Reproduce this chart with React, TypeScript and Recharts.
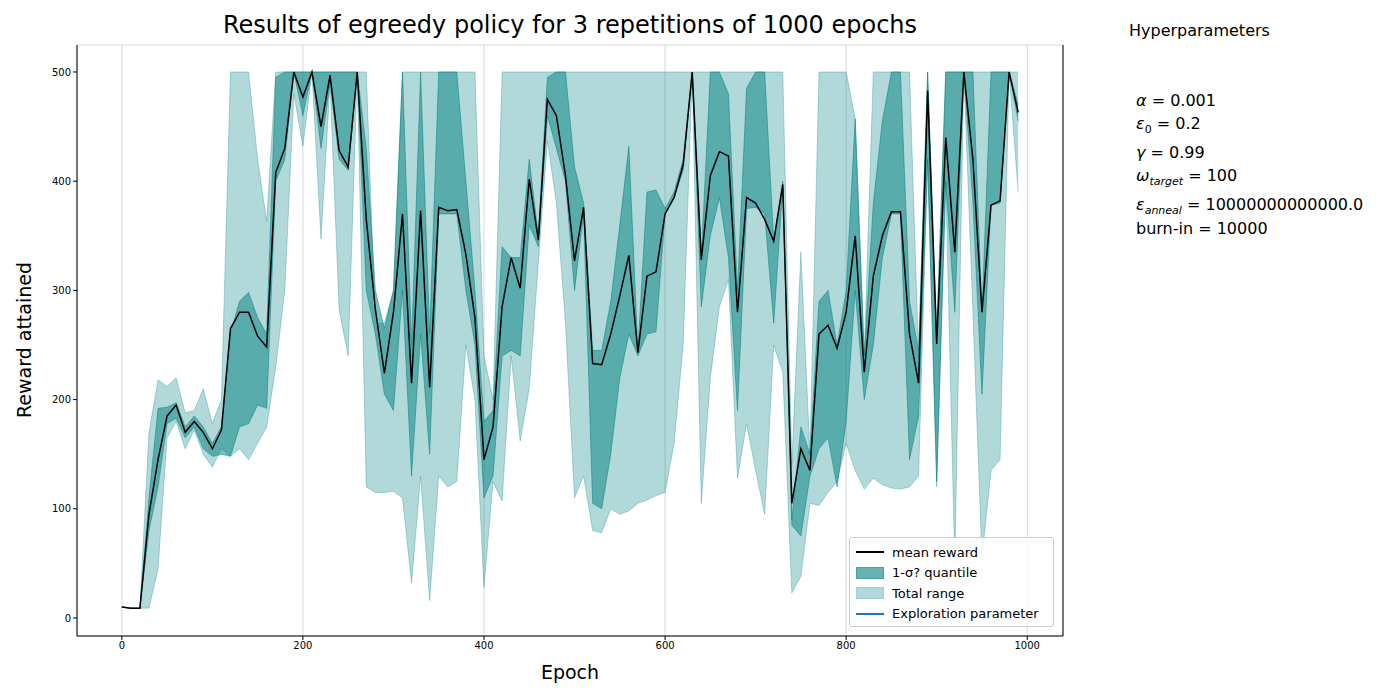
import { Area, CartesianGrid, ComposedChart, Line, XAxis, YAxis } from "recharts";

const epochs = Array.from({ length: 100 }, (_, i) => i * 10);
const meanReward = [10, 9, 9, 95, 145, 185, 195, 170, 180, 170, 155, 172, 265, 280, 280, 258, 248, 408, 430, 500, 477, 500, 450, 497, 428, 413, 500, 365, 283, 224, 280, 370, 215, 373, 211, 376, 373, 374, 333, 275, 145, 175, 285, 330, 302, 402, 346, 475, 460, 405, 327, 376, 233, 232, 260, 295, 332, 243, 313, 317, 370, 385, 415, 500, 328, 405, 427, 423, 280, 385, 380, 365, 345, 397, 105, 155, 135, 260, 268, 247, 280, 350, 225, 313, 350, 372, 372, 260, 215, 483, 251, 440, 335, 500, 420, 280, 378, 382, 500, 463];
const quantileHi = [10, 9, 9, 110, 192, 193, 197, 175, 185, 175, 160, 175, 260, 290, 298, 275, 260, 495, 500, 500, 500, 500, 500, 500, 500, 500, 500, 430, 300, 265, 300, 500, 250, 500, 260, 500, 500, 500, 400, 300, 180, 190, 340, 330, 330, 420, 350, 495, 500, 500, 413, 380, 245, 245, 290, 360, 432, 245, 390, 392, 375, 390, 420, 500, 330, 500, 500, 480, 300, 485, 500, 500, 345, 400, 90, 175, 150, 290, 300, 250, 300, 457, 240, 380, 455, 500, 500, 290, 245, 500, 260, 500, 500, 500, 500, 280, 500, 500, 500, 470];
const quantileLo = [10, 9, 9, 80, 120, 178, 183, 165, 175, 155, 148, 150, 148, 175, 178, 195, 192, 400, 420, 500, 460, 500, 430, 490, 420, 410, 500, 300, 260, 205, 190, 300, 130, 260, 150, 370, 370, 370, 300, 250, 110, 130, 240, 245, 240, 360, 340, 460, 430, 400, 300, 370, 105, 100, 150, 220, 260, 240, 260, 262, 370, 385, 410, 500, 285, 350, 385, 330, 190, 375, 376, 370, 270, 395, 85, 75, 130, 155, 165, 120, 180, 300, 200, 250, 330, 370, 370, 145, 185, 420, 125, 400, 280, 500, 380, 205, 378, 380, 500, 455];
const rangeHi = [10, 9, 9, 170, 218, 212, 220, 188, 190, 210, 178, 200, 500, 500, 500, 420, 363, 500, 500, 500, 500, 500, 500, 500, 500, 500, 500, 500, 270, 270, 300, 500, 500, 500, 500, 500, 500, 500, 500, 500, 240, 200, 500, 500, 500, 500, 500, 500, 500, 500, 500, 500, 500, 500, 500, 500, 500, 500, 500, 500, 500, 500, 500, 500, 500, 500, 500, 500, 500, 500, 500, 500, 500, 500, 140, 335, 150, 500, 500, 500, 500, 457, 240, 500, 500, 500, 500, 500, 240, 500, 260, 500, 500, 500, 500, 500, 500, 500, 500, 500];
const rangeLo = [10, 9, 9, 9, 45, 165, 180, 155, 172, 150, 138, 155, 148, 155, 145, 160, 175, 230, 300, 480, 432, 500, 347, 490, 282, 240, 500, 120, 115, 115, 116, 110, 32, 130, 16, 130, 120, 125, 250, 200, 28, 125, 107, 240, 162, 210, 325, 437, 380, 270, 110, 130, 80, 78, 100, 95, 98, 105, 108, 112, 115, 160, 250, 500, 105, 220, 285, 310, 128, 178, 135, 95, 250, 225, 23, 38, 105, 103, 115, 125, 160, 135, 118, 128, 122, 119, 118, 120, 130, 420, 120, 400, 50, 500, 280, 55, 135, 145, 500, 390];

const data = epochs.map((epoch, i) => ({
  epoch,
  mean: meanReward[i],
  q: [quantileLo[i], quantileHi[i]],
  r: [rangeLo[i], rangeHi[i]],
}));

const font = "DejaVu Sans, sans-serif";
const tick = { fontSize: 10, fill: "#000", fontFamily: font };

export default function App() {
  return (
    <div style={{ position: "relative", width: 1400, height: 700, margin: -8, fontFamily: font, background: "#fff" }}>
      <ComposedChart width={1400} height={700} data={data} margin={{ top: 45, left: 30, right: 277, bottom: 24 }}>
        <CartesianGrid stroke="#d8d8d8" />
        <XAxis dataKey="epoch" type="number" domain={[-49.5, 1039.5]} ticks={[0, 200, 400, 600, 800, 1000]} tick={tick} height={40} stroke="#000" tickSize={4} />
        <YAxis yAxisId="l" domain={[-16.5, 524.7]} ticks={[0, 100, 200, 300, 400, 500]} tick={tick} width={47} stroke="#000" tickSize={4} />
        <YAxis yAxisId="r" orientation="right" domain={[0.18898, 0.21098]} ticks={[0.19, 0.1925, 0.195, 0.1975, 0.2, 0.2025, 0.205, 0.2075, 0.21]} tickFormatter={(v) => v.toFixed(4)} tick={tick} width={60} stroke="#000" tickSize={4} />
        <Area yAxisId="l" dataKey="r" type="linear" fill="#008080" fillOpacity={0.3} stroke="#008080" strokeOpacity={0.3} isAnimationActive={false} />
        <Area yAxisId="l" dataKey="q" type="linear" fill="#008080" fillOpacity={0.5} stroke="#008080" strokeOpacity={0.5} isAnimationActive={false} />
        <Line yAxisId="l" dataKey="mean" type="linear" stroke="#000" strokeWidth={1.5} dot={false} isAnimationActive={false} />
      </ComposedChart>
      <div style={{ position: "absolute", top: 11, left: 77, width: 986, textAlign: "center", fontSize: 24 }}>
        Results of egreedy policy for 3 repetitions of 1000 epochs
      </div>
      <div style={{ position: "absolute", top: 661, left: 77, width: 986, textAlign: "center", fontSize: 19 }}>Epoch</div>
      <div style={{ position: "absolute", top: 340, left: 24, fontSize: 19, transform: "translate(-50%, -50%) rotate(-90deg)", whiteSpace: "nowrap" }}>
        Reward attained
      </div>
      <div style={{ position: "absolute", top: 21, left: 1129, fontSize: 16 }}>Hyperparameters</div>
      <div style={{ position: "absolute", top: 89, left: 1136, fontSize: 16, lineHeight: "23px", whiteSpace: "nowrap" }}>
        <div><i>α</i> = 0.001</div>
        <div><i>ε</i><sub style={{ fontSize: 11 }}>0</sub> = 0.2</div>
        <div><i>γ</i> = 0.99</div>
        <div><i>ω</i><sub style={{ fontSize: 11 }}><i>target</i></sub> = 100</div>
        <div><i>ε</i><sub style={{ fontSize: 11 }}><i>anneal</i></sub> = 10000000000000.0</div>
        <div style={{ marginTop: -6 }}>burn-in = 10000</div>
      </div>
      <div style={{ position: "absolute", top: 537, left: 849, width: 205, height: 90, border: "1px solid #ccc", borderRadius: 3, background: "rgba(255,255,255,0.85)", fontSize: 13, boxSizing: "border-box", padding: "4px 6px" }}>
        {[
          { label: "mean reward", el: <div style={{ width: 28, height: 2, background: "#000" }} /> },
          { label: "1-σ? quantile", el: <div style={{ width: 28, height: 12, background: "rgba(0,128,128,0.6)", border: "1px solid #4c9f9f", boxSizing: "border-box" }} /> },
          { label: "Total range", el: <div style={{ width: 28, height: 12, background: "rgba(0,128,128,0.3)", border: "1px solid #9fcfcf", boxSizing: "border-box" }} /> },
          { label: "Exploration parameter", el: <div style={{ width: 28, height: 2, background: "#1f77b4" }} /> },
        ].map((it) => (
          <div key={it.label} style={{ display: "flex", alignItems: "center", height: 20.5 }}>
            <div style={{ width: 36, display: "flex", alignItems: "center" }}>{it.el}</div>
            <span>{it.label}</span>
          </div>
        ))}
      </div>
    </div>
  );
}
